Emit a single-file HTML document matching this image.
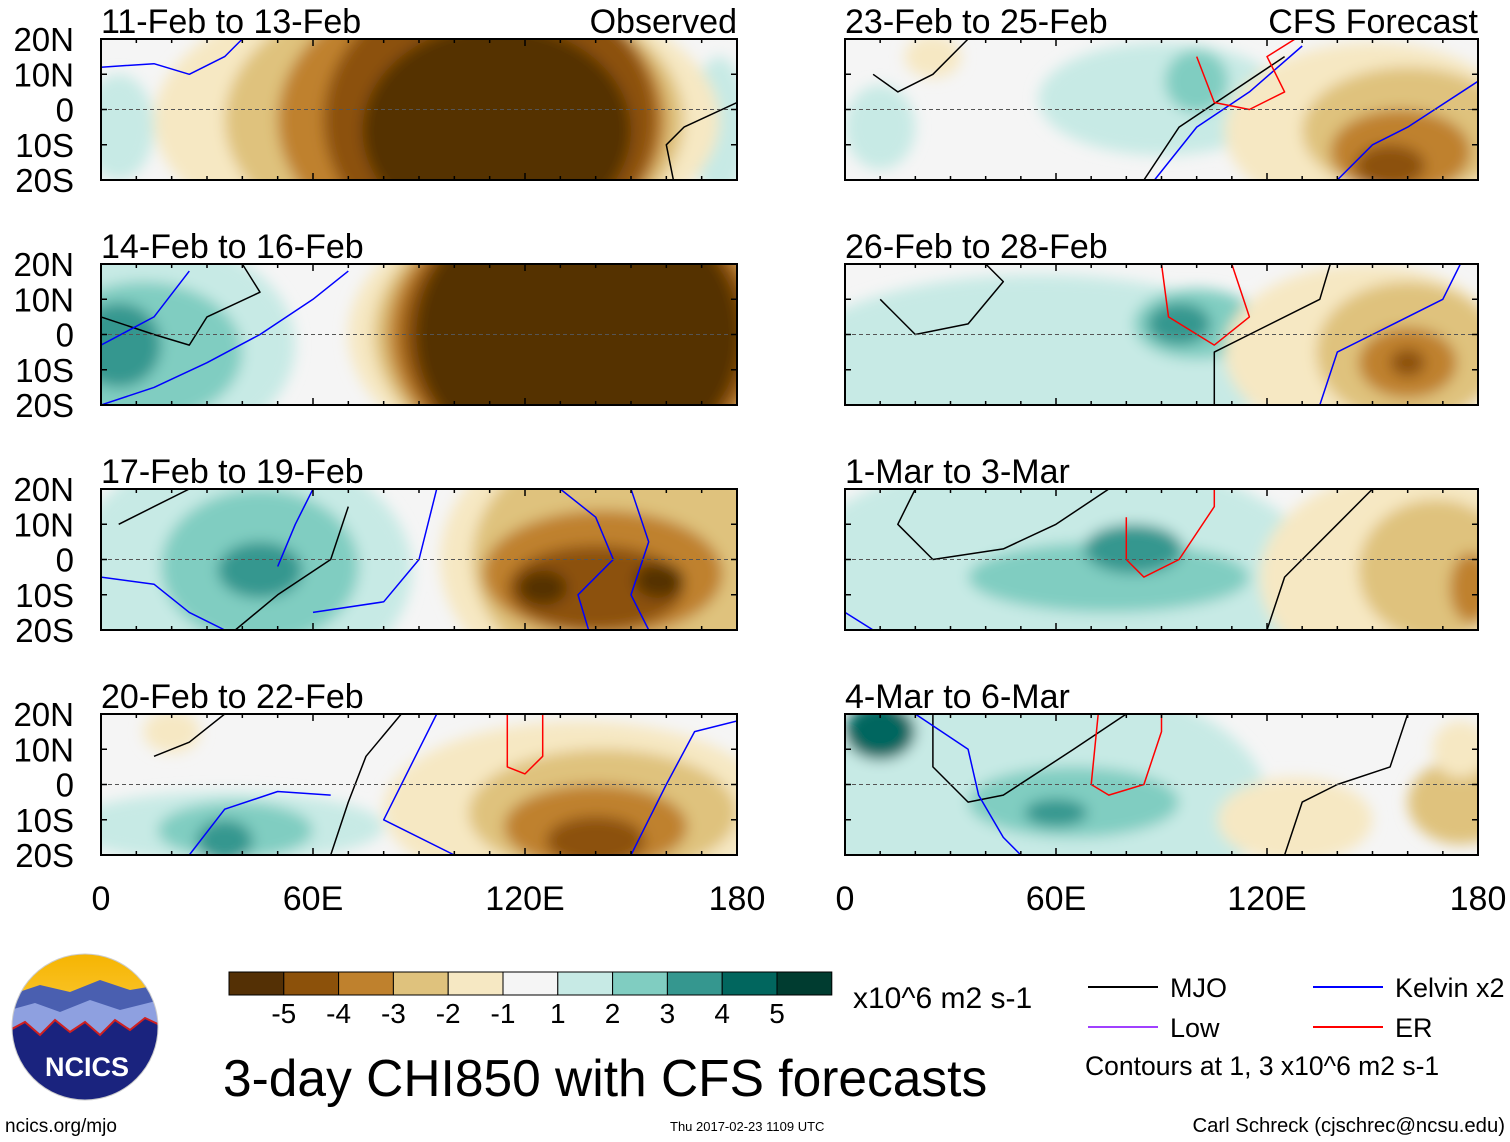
<!DOCTYPE html>
<html><head><meta charset="utf-8">
<style>
body{margin:0;background:#fff;}
svg{display:block;font-family:"Liberation Sans",Arial,sans-serif;}
</style></head>
<body>
<svg id="chart" width="1510" height="1142" viewBox="0 0 1510 1142" xmlns="http://www.w3.org/2000/svg">
<defs>
<filter id="blur" x="-20%" y="-20%" width="140%" height="140%"><feGaussianBlur stdDeviation="7"/></filter>
<linearGradient id="sky" x1="0" y1="0" x2="0" y2="1"><stop offset="0" stop-color="#f6b400"/><stop offset="1" stop-color="#ffe27a"/></linearGradient>
<clipPath id="logoclip"><circle cx="85" cy="1027" r="73"/></clipPath>
</defs>
<g id="panels"></g>
<g id="legend"></g>
</svg>
<script>
const levelColors=["#543005","#8c510a","#bf812d","#dfc27d","#f6e8c3","#f5f5f5","#c7eae5","#80cdc1","#35978f","#01665e","#003c30"];
const barLabels=["-5","-4","-3","-2","-1","1","2","3","4","5"];
const panelTitles=["11-Feb to 13-Feb","14-Feb to 16-Feb","17-Feb to 19-Feb","20-Feb to 22-Feb","23-Feb to 25-Feb","26-Feb to 28-Feb","1-Mar to 3-Mar","4-Mar to 6-Mar"];
const latTicks=["20N","10N","0","10S","20S"];
const lonTicks=["0","60E","120E","180"];
// blobs: [lon, lat, rxDeg, ryDeg, level]
const blobs0=[[5,-5,10,15,6],[175,-5,8,20,6],[95,-3,80,40,4],[100,-3,65,40,3],[105,-3,55,40,2],[110,-3,47,40,1],[112,-6,38,30,0]];
const blobs1=[[15,-3,40,30,6],[12,-5,28,20,7],[5,-3,12,12,8],[135,0,65,40,4],[135,0,58,40,3],[135,0,54,40,2],[135,0,50,40,1],[135,0,46,40,0]];
const blobs2=[[40,-3,48,35,6],[45,-2,28,22,7],[45,-3,12,8,8],[148,0,52,40,4],[148,0,43,35,3],[142,-4,34,18,2],[140,-8,25,12,1],[125,-8,7,5,0],[158,-6,7,5,0]];
const blobs3=[[35,-12,45,10,6],[38,-13,22,8,7],[35,-16,8,6,8],[20,15,8,6,4],[135,-7,55,25,4],[142,-8,38,18,3],[140,-12,26,12,2],[140,-16,14,7,1]];
const blobs4=[[90,3,35,16,6],[100,8,9,9,7],[10,-5,10,12,6],[25,15,8,6,4],[150,-6,42,25,4],[160,-6,30,18,3],[158,-12,20,12,2],[155,-16,10,6,1]];
const blobs5=[[55,-8,70,25,6],[100,3,18,10,7],[95,3,9,6,8],[148,-5,40,25,4],[160,-5,26,20,3],[160,-8,14,10,2],[160,-8,5,4,1]];
const blobs6=[[60,-5,75,35,6],[75,-5,40,10,7],[82,3,14,7,8],[160,-5,42,30,4],[168,-3,22,20,3],[178,-8,6,10,2]];
const blobs7=[[55,-5,65,35,6],[65,-5,30,10,7],[60,-8,9,4,8],[10,15,10,8,9],[128,-10,22,12,4],[175,-5,15,12,3],[175,10,8,8,4]];
const allBlobs=[blobs0,blobs1,blobs2,blobs3,blobs4,blobs5,blobs6,blobs7];
// contours: [color, [[lon,lat],...]]
const lines0=[["#0000ff",[[0,12],[15,13],[25,10],[35,15],[40,20]]],["#000",[[162,-20],[160,-10],[165,-5],[180,2]]]];
const lines1=[["#000",[[0,5],[15,0],[25,-3],[30,5],[45,12],[40,20]]],["#0000ff",[[0,-20],[15,-15],[30,-8],[45,0],[60,10],[70,18]]],["#0000ff",[[0,-3],[15,5],[25,18]]]];
const lines2=[["#000",[[5,10],[15,15],[25,20]]],["#000",[[38,-20],[50,-10],[65,0],[70,15]]],["#0000ff",[[0,-5],[15,-7],[25,-15],[35,-20]]],["#0000ff",[[50,-2],[55,10],[60,20]]],["#0000ff",[[60,-15],[80,-12],[90,0],[95,20]]],["#0000ff",[[130,20],[140,12],[145,0],[135,-10],[138,-20]]],["#0000ff",[[150,20],[155,5],[150,-10],[155,-20]]]];
const lines3=[["#000",[[15,8],[25,12],[35,20]]],["#000",[[65,-20],[70,-5],[75,8],[85,20]]],["#0000ff",[[25,-20],[35,-7],[50,-2],[65,-3]]],["#0000ff",[[100,-20],[80,-10],[90,10],[95,20]]],["#0000ff",[[150,-20],[160,0],[168,15],[180,18]]],["#ff0000",[[115,20],[115,5],[120,3],[125,8],[125,20]]]];
const lines4=[["#000",[[8,10],[15,5],[25,10],[35,20]]],["#000",[[85,-20],[95,-5],[110,5],[125,15]]],["#0000ff",[[88,-20],[100,-5],[115,5],[130,18]]],["#0000ff",[[140,-20],[150,-10],[160,-5],[180,8]]],["#ff0000",[[100,15],[105,2],[115,0],[125,5],[120,15],[128,20]]]];
const lines5=[["#000",[[10,10],[20,0],[35,3],[45,15],[40,20]]],["#000",[[105,-20],[105,-5],[115,0],[135,10],[138,20]]],["#0000ff",[[135,-20],[140,-5],[150,0],[170,10],[175,20]]],["#ff0000",[[90,20],[92,5],[105,-3],[115,5],[110,20]]]];
const lines6=[["#000",[[20,20],[15,10],[25,0],[45,3],[60,10],[75,20]]],["#000",[[120,-20],[125,-5],[140,10],[150,20]]],["#0000ff",[[0,-15],[8,-20]]],["#ff0000",[[80,12],[80,0],[85,-5],[95,0],[105,15],[105,20]]]];
const lines7=[["#000",[[25,20],[25,5],[35,-5],[45,-3],[65,10],[80,20]]],["#000",[[125,-20],[130,-5],[140,0],[155,5],[160,20]]],["#0000ff",[[20,20],[35,10],[38,-3],[45,-15],[50,-20]]],["#ff0000",[[72,20],[70,0],[75,-3],[85,0],[90,15],[90,20]]]];
const allLines=[lines0,lines1,lines2,lines3,lines4,lines5,lines6,lines7];

const NS="http://www.w3.org/2000/svg";
function mk(tag,attrs,parent){const e=document.createElementNS(NS,tag);for(const k in attrs)e.setAttribute(k,attrs[k]);parent.appendChild(e);return e;}
const panelsG=document.getElementById('panels');
const colX=[101,845], colW=[636,633], rowY=[39,264,489,714], H=141;
for(let p=0;p<8;p++){
  const col=p<4?0:1,row=p%4;
  const x0=colX[col],y0=rowY[row],W=colW[col];
  const xs=lon=>x0+lon/180*W, ys=lat=>y0+(20-lat)/40*H;
  const g=mk('g',{},panelsG);
  
  
  const cp=mk('clipPath',{id:'cp'+p},g);
  mk('rect',{x:x0,y:y0,width:W,height:H},cp);
  const inner=mk('g',{'clip-path':'url(#cp'+p+')'},g);
  mk('rect',{x:x0,y:y0,width:W,height:H,fill:levelColors[5]},inner);
  const bg=mk('g',{filter:'url(#blur)'},inner);
  allBlobs[p].forEach(b=>{
    const el=mk('ellipse',{cx:xs(b[0]),cy:ys(b[1]),rx:b[2]/180*W,ry:b[3]/40*H,fill:levelColors[b[4]]},bg);
    
    
  });
  allLines[p].forEach(l=>{
    const d=l[1].map((pt,i)=>(i?'L':'M')+xs(pt[0]).toFixed(1)+','+ys(pt[1]).toFixed(1)).join(' ');
    const el=mk('path',{d:d,fill:'none',stroke:l[0],'stroke-width':1.5,'stroke-linejoin':'round'},inner);
    
    
  });
  mk('line',{x1:x0,x2:x0+W,y1:ys(0),y2:ys(0),stroke:'#555','stroke-width':1,'stroke-dasharray':'4,3'},g);
  const fr=mk('rect',{x:x0,y:y0,width:W,height:H,fill:'none',stroke:'#000','stroke-width':2},g);
  
  
  for(let lon=0;lon<=180;lon+=10){
    const L=lon%60===0?7:4;
    mk('line',{x1:xs(lon),x2:xs(lon),y1:y0,y2:y0+L,stroke:'#000','stroke-width':1.5},g);
    mk('line',{x1:xs(lon),x2:xs(lon),y1:y0+H,y2:y0+H-L,stroke:'#000','stroke-width':1.5},g);
  }
  for(let lat=-20;lat<=20;lat+=10){
    mk('line',{x1:x0,x2:x0+6,y1:ys(lat),y2:ys(lat),stroke:'#000','stroke-width':1.5},g);
    mk('line',{x1:x0+W,x2:x0+W-6,y1:ys(lat),y2:ys(lat),stroke:'#000','stroke-width':1.5},g);
  }
  const t=mk('text',{x:x0,y:y0-6,'font-size':34},g);t.textContent=panelTitles[p];
  
  
  if(row===0){const t2=mk('text',{x:x0+W,y:y0-6,'font-size':34,'text-anchor':'end'},g);t2.textContent=col?'CFS Forecast':'Observed';
    
    }
  if(col===0){latTicks.forEach((s,i)=>{const tt=mk('text',{x:74,y:y0+i*H/4+12,'font-size':33,'text-anchor':'end'},g);tt.textContent=s;
    
    });}
  if(row===3){lonTicks.forEach((s,i)=>{const tt=mk('text',{x:x0+i*W/3,y:910,'font-size':34,'text-anchor':'middle'},g);tt.textContent=s;
    
    });}
}
// legend
const lg=document.getElementById('legend');
const bx0=229,bw=54.8;
for(let i=0;i<11;i++){const r=mk('rect',{x:bx0+i*bw,y:972,width:bw,height:23,fill:levelColors[i],stroke:'#000','stroke-width':1},lg);
  
  }
barLabels.forEach((s,i)=>{const t=mk('text',{x:bx0+(i+1)*bw,y:1023,'font-size':28,'text-anchor':'middle'},lg);t.textContent=s;
  
  });
function txt(x,y,s,fs,name,anchor){const t=mk('text',{x:x,y:y,'font-size':fs,'text-anchor':anchor||'start'},lg);t.textContent=s;
  
  return t;}
txt(853,1008,'x10^6 m2 s-1',30,'units-label');
txt(223,1096,'3-day CHI850 with CFS forecasts',51.5,'chart-title');
const legItems=[[1088,987,'#000','MJO'],[1313,987,'#0000ff','Kelvin x2'],[1088,1027,'#a040ff','Low'],[1313,1027,'#ff0000','ER']];
legItems.forEach(it=>{mk('line',{x1:it[0],x2:it[0]+70,y1:it[1],y2:it[1],stroke:it[2],'stroke-width':2},lg);
  txt(it[0]+82,it[1]+10,it[3],27,'legend-entry');});
txt(1085,1075,'Contours at 1, 3 x10^6 m2 s-1',26.5,'contour-note');
txt(5,1132,'ncics.org/mjo',19,'source-url');
txt(670,1131,'Thu 2017-02-23 1109 UTC',13,'timestamp');
txt(1505,1132,'Carl Schreck (cjschrec@ncsu.edu)',20.3,'author','end');
// logo
const logo=mk('g',{'clip-path':'url(#logoclip)'},lg);


mk('rect',{x:10,y:952,width:150,height:150,fill:'url(#sky)'},logo);
mk('path',{d:'M10,995 L40,985 L70,992 L100,980 L130,990 L160,985 L160,1102 L10,1102Z',fill:'#4a5fb0'},logo);
mk('path',{d:'M10,1010 L35,1003 L60,1012 L90,1000 L120,1010 L160,1000 L160,1102 L10,1102Z',fill:'#8ea0e0'},logo);
mk('path',{d:'M10,1030 L25,1022 L40,1035 L55,1020 L70,1032 L85,1022 L100,1035 L115,1020 L130,1030 L145,1018 L160,1025 L160,1102 L10,1102Z',fill:'#1a237e',stroke:'#d02020','stroke-width':2},logo);
mk('circle',{cx:85,cy:1027,r:73,fill:'none',stroke:'#ccc','stroke-width':1},lg);
const lt=mk('text',{x:87,y:1076,'font-size':27,'font-weight':'bold',fill:'#fff','text-anchor':'middle'},lg);lt.textContent='NCICS';


</script>
</body></html>
